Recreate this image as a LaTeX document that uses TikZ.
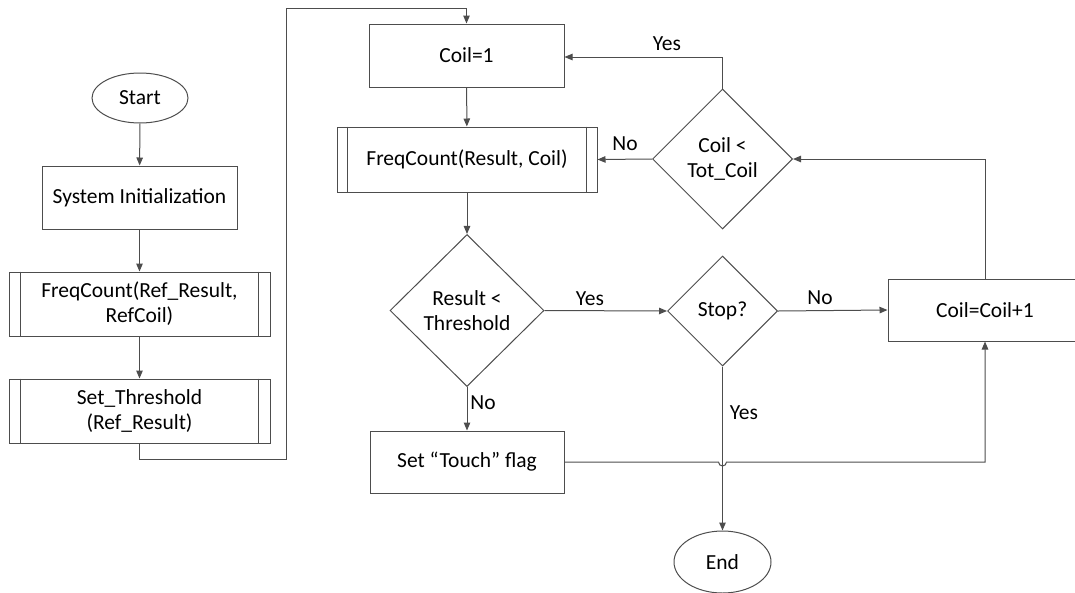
\documentclass[tikz,border=0pt]{standalone}
\usepackage{fontspec}
\setmainfont{Carlito}
\usetikzlibrary{shapes.geometric,arrows.meta}
\definecolor{linec}{HTML}{4D4D4D}
\begin{document}
\begin{tikzpicture}[x=1pt,y=-1pt,
  font=\fontsize{21.5}{25}\selectfont,
  procbox/.style={rectangle, draw=linec, line width=1pt, inner sep=0pt, align=center},
  termbox/.style={ellipse, draw=linec, line width=1pt, inner sep=0pt},
  decbox/.style={diamond, draw=linec, line width=1pt, inner sep=0pt, aspect=1, align=center},
  arr/.style={draw=linec, line width=1pt, -{Triangle[length=8pt,width=6.5pt]}},
  plain/.style={draw=linec, line width=1pt},
  lbl/.style={inner sep=0pt}]
\useasboundingbox (0,0) rectangle (1075,592);

% left column
\node[termbox, minimum width=96pt, minimum height=50pt] (start) at (140,98) {Start};
\node[procbox, minimum width=195pt, minimum height=63pt] (init) at (139.5,197.5) {System Initialization};
\node[procbox, minimum width=261pt, minimum height=64pt] (fref) at (139.5,304) {FreqCount(Ref\_Result,\\RefCoil)};
\node[procbox, minimum width=261pt, minimum height=64pt] (setth) at (139.5,411) {Set\_Threshold\\(Ref\_Result)};
\foreach \n in {fref,setth}{
  \draw[plain] ([xshift=12pt]\n.north west) -- ([xshift=12pt]\n.south west);
  \draw[plain] ([xshift=-12pt]\n.north east) -- ([xshift=-12pt]\n.south east);
}

% right part
\node[procbox, minimum width=195pt, minimum height=63pt] (coil1) at (466.5,55.5) {Coil=1};
\node[procbox, minimum width=260pt, minimum height=65pt] (freq) at (467,159.5) {FreqCount(Result, Coil)};
\draw[plain] ([xshift=11pt]freq.north west) -- ([xshift=11pt]freq.south west);
\draw[plain] ([xshift=-11pt]freq.north east) -- ([xshift=-11pt]freq.south east);
\node[decbox, minimum width=140pt, minimum height=140pt] (tot) at (722.5,159) {Coil <\\Tot\_Coil};
\node[decbox, minimum width=154pt, minimum height=152pt] (thr) at (467,310.5) {Result <\\Threshold};
\node[decbox, minimum width=110pt, minimum height=110pt] (stop) at (722.5,311) {Stop?};
\node[procbox, minimum width=194pt, minimum height=62pt] (touch) at (467,462) {Set “Touch” flag};
\node[procbox, minimum width=194pt, minimum height=62pt] (inc) at (985,310) {Coil=Coil+1};
\node[termbox, minimum width=97pt, minimum height=62pt] (end) at (722.5,562) {End};

\coordinate (c1) at (139.5,459);
\coordinate (c2) at (286,459);
\coordinate (c3) at (286,8);
\coordinate (c4) at (466.5,8);
\coordinate (y1) at (722.5,57);
\coordinate (r1) at (985,159);
\coordinate (h1) at (718.5,462);

% connectors
\draw[arr] (start) -- (init);
\draw[arr] (init) -- (fref);
\draw[arr] (fref) -- (setth);
\draw[plain] (setth.south) -- (c1) -- (c2) -- (c3) -- (c4);
\draw[arr] (c4) -- (coil1.north);
\draw[arr] (coil1) -- (freq);
\draw[arr] (freq) -- (thr);
\draw[arr] (thr.east) -- (stop.west);
\draw[arr] (thr.south) -- (touch.north);
\draw[arr] (stop.east) -- (inc.west);
\draw[arr] (stop.south) -- (end.north);
\draw[arr] (touch.east) -- (h1) arc[start angle=180, end angle=360, radius=4pt] -| (inc.south);
\draw[arr] (inc.north) -- (r1) -- (tot.east);
\draw[arr] (tot.north) -- (y1) -- (coil1.east |- y1);
\draw[arr] (tot.west) -- (freq.east);

% labels
\node[lbl] (l1) at (667,44) {Yes};
\node[lbl] (l2) at (625,144) {No};
\node[lbl] (l3) at (590,299) {Yes};
\node[lbl] (l4) at (483,403) {No};
\node[lbl] (l5) at (820,298) {No};
\node[lbl] (l6) at (744,413) {Yes};
\end{tikzpicture}
\end{document}
